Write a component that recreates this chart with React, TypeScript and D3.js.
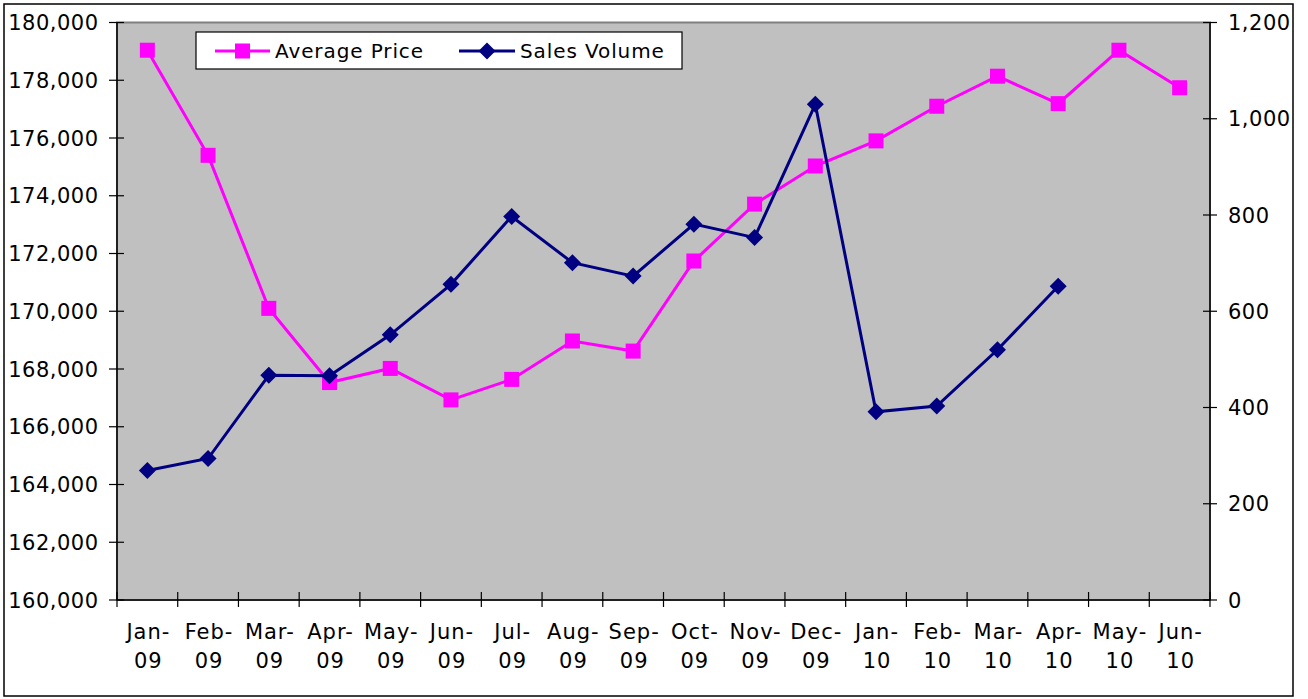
import React, { useEffect, useRef } from "react";
import * as d3 from "d3";

const months = ["Jan-", "Feb-", "Mar-", "Apr-", "May-", "Jun-", "Jul-", "Aug-", "Sep-", "Oct-", "Nov-", "Dec-", "Jan-", "Feb-", "Mar-", "Apr-", "May-", "Jun-"];
const years = ["09", "09", "09", "09", "09", "09", "09", "09", "09", "09", "09", "09", "10", "10", "10", "10", "10", "10"];
const avgPrice = [179040, 175400, 170100, 167530, 168020, 166930, 167640, 168970, 168620, 171740, 173710, 175030, 175900, 177100, 178140, 177190, 179040, 177740];
const salesVolume: (number | null)[] = [269, 294, 467, 466, 551, 656, 797, 701, 673, 781, 753, 1030, 391, 403, 520, 652, null, null];
const leftTicks = [160000, 162000, 164000, 166000, 168000, 170000, 172000, 174000, 176000, 178000, 180000];
const rightTicks = [0, 200, 400, 600, 800, 1000, 1200];

const W = 1308;
const H = 699;
const FONT = "'DejaVu Sans', Verdana, sans-serif";

export default function App() {
    const svgRef = useRef<SVGSVGElement>(null);

    useEffect(() => {
        const svg = d3.select(svgRef.current);
        svg.selectAll("*").remove();

        const left = 117, right = 1210, top = 22.5, bottom = 600;
        const keys = months.map((m, i) => i);

        const x = d3.scaleBand<number>().domain(keys).range([left, right]);
        const yL = d3.scaleLinear().domain([160000, 180000]).range([bottom, top]);
        const yR = d3.scaleLinear().domain([0, 1200]).range([bottom, top]);
        const cx = (i: number) => (x(i) as number) + x.bandwidth() / 2;

        // outer frame
        svg.append("rect")
            .attr("x", 4).attr("y", 4).attr("width", 1289).attr("height", 692)
            .attr("fill", "white").attr("stroke", "#000").attr("stroke-width", 1.5);

        // plot area
        svg.append("rect")
            .attr("x", left).attr("y", top).attr("width", right - left).attr("height", bottom - top)
            .attr("fill", "#c0c0c0").attr("stroke", "#808080").attr("stroke-width", 2);

        // left axis
        const gl = svg.append("g");
        gl.append("line").attr("x1", left).attr("x2", left).attr("y1", top).attr("y2", bottom)
            .attr("stroke", "#000").attr("stroke-width", 1.5);
        gl.selectAll(".tk").data(leftTicks).join("line")
            .attr("x1", left - 8).attr("x2", left + 7)
            .attr("y1", d => yL(d)).attr("y2", d => yL(d))
            .attr("stroke", "#000").attr("stroke-width", 1.2);
        gl.selectAll("text").data(leftTicks).join("text")
            .attr("x", 98.5).attr("y", d => yL(d))
            .attr("dy", "0.36em").attr("text-anchor", "end")
            .attr("font-family", FONT).attr("font-size", 21).attr("letter-spacing", 0.5).attr("fill", "#000")
            .text(d => d3.format(",")(d));

        // right axis
        const gr = svg.append("g");
        gr.append("line").attr("x1", right).attr("x2", right).attr("y1", top).attr("y2", bottom)
            .attr("stroke", "#000").attr("stroke-width", 1.5);
        gr.selectAll(".tk").data(rightTicks).join("line")
            .attr("x1", right - 7).attr("x2", right + 7)
            .attr("y1", d => yR(d)).attr("y2", d => yR(d))
            .attr("stroke", "#000").attr("stroke-width", 1.2);
        gr.selectAll("text").data(rightTicks).join("text")
            .attr("x", 1228).attr("y", d => yR(d))
            .attr("dy", "0.36em").attr("text-anchor", "start")
            .attr("font-family", FONT).attr("font-size", 21).attr("letter-spacing", 0.5).attr("fill", "#000")
            .text(d => d3.format(",")(d));

        // bottom axis
        const gb = svg.append("g");
        gb.append("line").attr("x1", left).attr("x2", right).attr("y1", bottom).attr("y2", bottom)
            .attr("stroke", "#000").attr("stroke-width", 1.5);
        const bounds = [...keys.map(i => x(i) as number), right];
        gb.selectAll(".tk").data(bounds).join("line")
            .attr("x1", d => d).attr("x2", d => d)
            .attr("y1", bottom - 8).attr("y2", bottom + 7)
            .attr("stroke", "#000").attr("stroke-width", 1.2);
        const lab = gb.selectAll(".lab").data(keys).join("text")
            .attr("text-anchor", "middle")
            .attr("font-family", FONT).attr("font-size", 21).attr("letter-spacing", 1).attr("fill", "#000");
        lab.append("tspan").attr("x", d => cx(d) + 1).attr("y", 639).text(d => months[d]);
        lab.append("tspan").attr("x", d => cx(d) + 1).attr("y", 668).text(d => years[d]);

        // lines
        const priceLine = d3.line<number>().x((d, i) => cx(i)).y(d => yL(d));
        const salesLine = d3.line<number | null>()
            .defined(d => d !== null)
            .x((d, i) => cx(i)).y(d => yR(d as number));

        svg.append("path").datum(avgPrice).attr("d", priceLine)
            .attr("fill", "none").attr("stroke", "#ff00ff").attr("stroke-width", 3);
        svg.append("g").selectAll("rect").data(avgPrice).join("rect")
            .attr("x", (d, i) => cx(i) - 7.5).attr("y", d => yL(d) - 7.5)
            .attr("width", 15).attr("height", 15).attr("fill", "#ff00ff");

        svg.append("path").datum(salesVolume).attr("d", salesLine)
            .attr("fill", "none").attr("stroke", "#000080").attr("stroke-width", 3);
        const diamond = "M0,-8.5L8.5,0L0,8.5L-8.5,0Z";
        svg.append("g").selectAll("path")
            .data(salesVolume.map((v, i) => ({ v, i })).filter(d => d.v !== null))
            .join("path")
            .attr("d", diamond)
            .attr("transform", d => `translate(${cx(d.i)},${yR(d.v as number)})`)
            .attr("fill", "#000080");

        // legend
        const lg = svg.append("g");
        lg.append("rect").attr("x", 196).attr("y", 32).attr("width", 486).attr("height", 37)
            .attr("fill", "white").attr("stroke", "#000").attr("stroke-width", 1.2);
        lg.append("line").attr("x1", 215).attr("x2", 270).attr("y1", 51).attr("y2", 51)
            .attr("stroke", "#ff00ff").attr("stroke-width", 3);
        lg.append("rect").attr("x", 235).attr("y", 43.5).attr("width", 15).attr("height", 15).attr("fill", "#ff00ff");
        lg.append("text").attr("x", 275).attr("y", 51).attr("dy", "0.36em")
            .attr("font-family", FONT).attr("font-size", 20).attr("letter-spacing", 0.9).attr("fill", "#000").text("Average Price");
        lg.append("line").attr("x1", 459).attr("x2", 515).attr("y1", 51).attr("y2", 51)
            .attr("stroke", "#000080").attr("stroke-width", 3);
        lg.append("path").attr("d", diamond).attr("transform", "translate(487,51)").attr("fill", "#000080");
        lg.append("text").attr("x", 520).attr("y", 51).attr("dy", "0.36em")
            .attr("font-family", FONT).attr("font-size", 20).attr("letter-spacing", 0.9).attr("fill", "#000").text("Sales Volume");
    }, []);

    return (
        <div style={{ position: "absolute", left: 0, top: 0 }}>
            <svg ref={svgRef} width={W} height={H} style={{ display: "block" }} />
        </div>
    );
}
